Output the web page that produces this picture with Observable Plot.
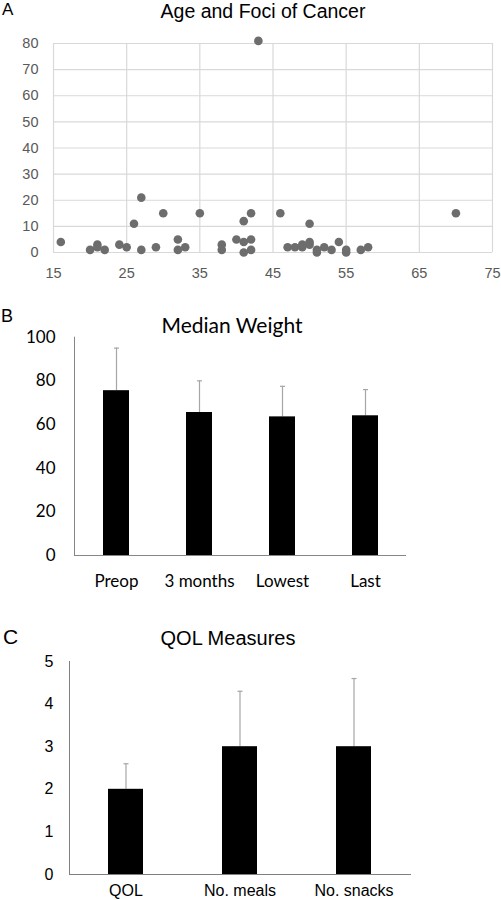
<!DOCTYPE html>
<html><head><meta charset="utf-8">
<script src="https://cdn.jsdelivr.net/npm/d3@7"></script>
<script src="https://cdn.jsdelivr.net/npm/@observablehq/plot@0.6"></script>
<style>
body{margin:0;background:#fff;}
#wrap{position:relative;width:501px;height:900px;overflow:hidden;background:#fff;}
#wrap svg{position:absolute;left:0;}
.lbl{position:absolute;white-space:nowrap;line-height:1;color:#000;}
.ctr{transform:translateX(-50%);}
</style></head><body><div id="wrap"></div>
<script>
// Panel A: Age and Foci of Cancer
const ages = [16,20,21,21,22,24,25,26,27,27,29,30,32,32,33,35,38,38,40,41,41,41,42,42,42,43,46,47,48,49,49,50,50,50,51,51,52,53,54,55,55,57,58,70];
const foci = [4,1,3,2,1,3,2,11,21,1,2,15,5,1,2,15,3,1,5,12,4,0,15,5,1,81,15,2,2,2,3,11,4,3,1,0,2,1,4,1,0,1,2,15];
const aXTicks = [15,25,35,45,55,65,75];
const aYTicks = [0,10,20,30,40,50,60,70,80];

// Panel B: Median Weight
const bCats = ["Preop","3 months","Lowest","Last"];
const bValues = [75.5,65.5,63.5,64];
const bErrTop = [95,80,77.5,76];
const bYTicks = [0,20,40,60,80,100];

// Panel C: QOL Measures
const cCats = ["QOL","No. meals","No. snacks"];
const cValues = [2,3,3];
const cErrTop = [2.6,4.3,4.6];
const cYTicks = [0,1,2,3,4,5];

const wrap = document.getElementById("wrap");
function place(el, top){ el.style.top = top + "px"; wrap.appendChild(el); }
function label(text, left, top, css, center){
  const d = document.createElement("div");
  d.className = "lbl" + (center ? " ctr" : "");
  d.textContent = text;
  d.style.left = left + "px"; d.style.top = top + "px";
  d.style.cssText += css;
  wrap.appendChild(d);
}
// small horizontal cap for error bars
const capSymbol = {draw(context){ context.moveTo(-2.5, 0); context.lineTo(2.5, 0); }};

const pointsA = ages.map((a,i)=>({age:a, foci:foci[i]}));
const plotA = Plot.plot({
  width:501, height:290, marginTop:43, marginBottom:38, marginLeft:53, marginRight:9,
  style:{fontFamily:"'Liberation Sans', Arial, sans-serif", fontSize:"14.5px", color:"#595959", background:"transparent", overflow:"visible"},
  x:{domain:[15,75]}, y:{domain:[0,80]},
  marks:[
    Plot.ruleY(aYTicks,{stroke:"#d9d9d9", strokeWidth:1.2}),
    Plot.ruleX(aXTicks,{stroke:"#d9d9d9", strokeWidth:1.2}),
    Plot.axisX({ticks:aXTicks, tickSize:0, tickPadding:15.4, label:null}),
    Plot.axisY({ticks:aYTicks, tickSize:0, tickPadding:15, label:null}),
    Plot.dot(pointsA,{x:"age", y:"foci", r:4.3, fill:"#6d6d6d", stroke:null})
  ]
});
place(plotA, 0);

const dataB = bCats.map((c,i)=>({cat:c, value:bValues[i], err:bErrTop[i]}));
const plotB = Plot.plot({
  width:501, height:310, marginTop:46.7, marginBottom:45, marginLeft:74, marginRight:95,
  style:{fontFamily:"Lato, 'Open Sans', sans-serif", fontSize:"17px", color:"#000", background:"transparent", overflow:"visible"},
  x:{domain:bCats, paddingInner:0.69, paddingOuter:0.345}, y:{domain:[0,100]},
  marks:[
    Plot.ruleX(dataB,{x:"cat", y1:"value", y2:"err", stroke:"#a6a6a6", strokeWidth:1.2}),
    Plot.dot(dataB,{x:"cat", y:"err", symbol:capSymbol, stroke:"#a6a6a6", fill:"none", strokeWidth:1.2}),
    Plot.barY(dataB,{x:"cat", y:"value", fill:"#000"}),
    Plot.frame({anchor:"left", stroke:"#868686"}),
    Plot.ruleY([0],{stroke:"#868686"}),
    Plot.axisX({tickSize:0, tickPadding:19.5, label:null}),
    Plot.axisY({ticks:bYTicks, tickSize:0, tickPadding:19, label:null})
  ]
});
place(plotB, 290);

const dataC = cCats.map((c,i)=>({cat:c, value:cValues[i], err:cErrTop[i]}));
const plotC = Plot.plot({
  width:501, height:300, marginTop:61, marginBottom:26, marginLeft:69, marginRight:90,
  style:{fontFamily:"'Liberation Sans', Arial, sans-serif", fontSize:"16px", color:"#000", background:"transparent", overflow:"visible"},
  x:{domain:cCats, paddingInner:0.69, paddingOuter:0.345}, y:{domain:[0,5]},
  marks:[
    Plot.ruleX(dataC,{x:"cat", y1:"value", y2:"err", stroke:"#a6a6a6", strokeWidth:1.2}),
    Plot.dot(dataC,{x:"cat", y:"err", symbol:capSymbol, stroke:"#a6a6a6", fill:"none", strokeWidth:1.2}),
    Plot.barY(dataC,{x:"cat", y:"value", fill:"#000"}),
    Plot.frame({anchor:"left", stroke:"#808080"}),
    Plot.ruleY([0],{stroke:"#808080"}),
    Plot.axisX({tickSize:0, tickPadding:10, label:null}),
    Plot.axisY({ticks:cYTicks, tickFormat:"d", tickSize:0, tickPadding:16, label:null})
  ]
});
place(plotC, 600);

// Titles and panel letters
label("A", 2, 1.3, "font-family:'Liberation Sans',Arial,sans-serif;font-size:17px;");
label("Age and Foci of Cancer", 263, 2, "font-family:'Liberation Sans',Arial,sans-serif;font-size:19.5px;", true);
label("B", 1, 306.5, "font-family:'Liberation Sans',Arial,sans-serif;font-size:18px;");
label("Median Weight", 232, 313.7, "font-family:Lato,sans-serif;font-size:21px;", true);
label("C", 3, 625.5, "font-family:'Liberation Sans',Arial,sans-serif;font-size:21px;");
label("QOL Measures", 228, 628, "font-family:'Liberation Sans',Arial,sans-serif;font-size:20px;", true);
</script></body></html>
